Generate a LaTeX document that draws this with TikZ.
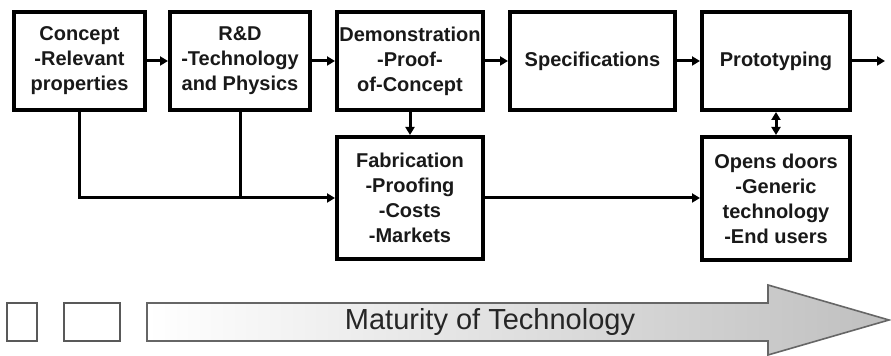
\documentclass[tikz,border=0pt]{standalone}
\usepackage{fontspec}
\setmainfont{Liberation Sans}
\usetikzlibrary{arrows.meta}
\tikzset{box/.style = {draw, line width=2pt, inner sep=0, minimum height=49pt, align=center, text=black!90, font=\fontsize{10}{12.5}\selectfont\bfseries}}
\tikzset{link/.style = {line width=1.5pt, >={Triangle[length=4pt,width=4.5pt]}}}
\tikzset{tag/.style = {draw=black!65, line width=0.7pt, fill=white, inner sep=0, minimum height=19pt}}

\begin{document}
\begin{tikzpicture}[x=0.5pt,y=-0.5pt]
        \useasboundingbox (0,0) rectangle (891,356);
        % process boxes
        \node[box, minimum width=65.5pt] (concept) at (79.5,61) {Concept\\-Relevant\\properties};
        \node[box, minimum width=70pt] (rnd) at (240,61) {R\&D\\-Technology\\and Physics};
        \node[box, minimum width=73pt] (demo) at (410,61) {Demonstration\\-Proof-\\of-Concept};
        \node[box, minimum width=82.5pt] (spec) at (592.5,61) {Specifications};
        \node[box, minimum width=74pt] (proto) at (776,61) {Prototyping};
        \node[box, minimum width=73pt, minimum height=61pt] (fab) at (410,198) {Fabrication\\-Proofing\\-Costs\\-Markets};
        \node[box, minimum width=74pt, minimum height=61.5pt] (doors) at (776,198.5) {Opens doors\\-Generic\\technology\\-End users};
        \coordinate (out) at (885,61);
        % connectors
        \draw[link,->] (concept) -- (rnd);
        \draw[link,->] (rnd) -- (demo);
        \draw[link,->] (demo) -- (spec);
        \draw[link,->] (spec) -- (proto);
        \draw[link,->] (proto) -- (out);
        \draw[link,->] (demo) -- (fab);
        \draw[link,<->] (proto) -- (doors);
        \draw[link,->] (concept.south) |- (fab.west);
        \draw[link] (rnd.south) -- (rnd.south |- fab.west);
        \draw[link,->] (fab) -- (doors.west |- fab);
        % maturity arrow
        \node[tag, minimum width=15pt] (tagA) at (22,322) {};
        \node[tag, minimum width=28pt] (tagB) at (92,322) {};
        \draw[draw=black!60, line width=0.8pt, left color=white, right color=black!25] (147,303) -- (768,303) -- (768,285) -- (889,320) -- (768,355) -- (768,341) -- (147,341) -- cycle;
        \node[text=black!85, font=\fontsize{14.5}{14.5}\selectfont] (maturity) at (490,322) {Maturity of Technology};
\end{tikzpicture}
\end{document}
